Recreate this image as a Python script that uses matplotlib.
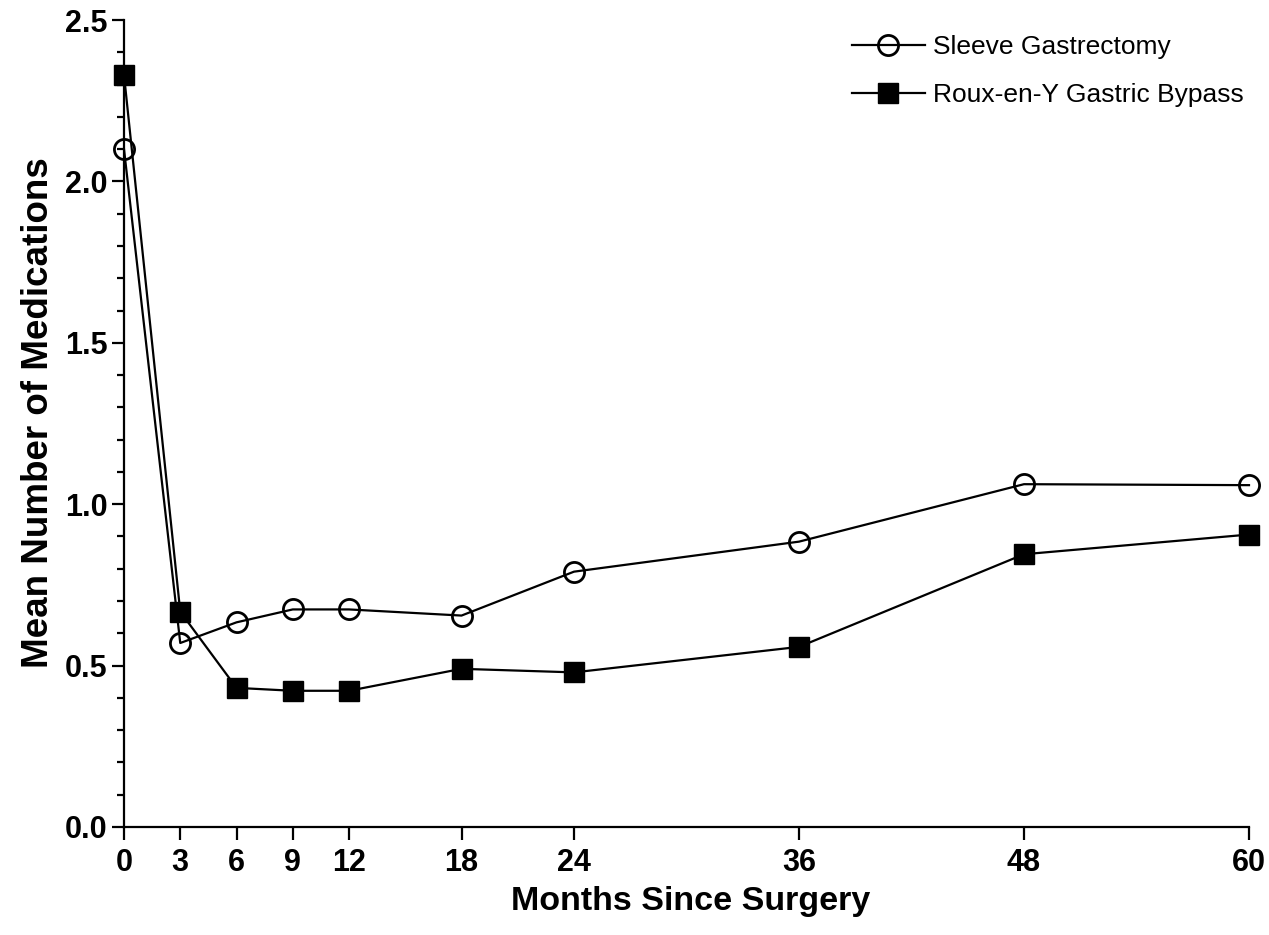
import matplotlib
matplotlib.use("Agg")
import matplotlib.pyplot as plt
from matplotlib.ticker import MultipleLocator

plt.rcParams['font.family'] = ['Liberation Sans', 'DejaVu Sans']

months = [0, 3, 6, 9, 12, 18, 24, 36, 48, 60]
sleeve = [2.10, 0.57, 0.634, 0.674, 0.674, 0.655, 0.791, 0.884, 1.062, 1.059]
rygb = [2.33, 0.667, 0.431, 0.422, 0.422, 0.490, 0.479, 0.558, 0.845, 0.906]
x_ticks = [0, 3, 6, 9, 12, 18, 24, 36, 48, 60]
y_ticks = [0.0, 0.5, 1.0, 1.5, 2.0, 2.5]

fig = plt.figure(figsize=(12.69, 9.35), dpi=100)
ax = fig.add_axes([124 / 1269, 1 - 827 / 935, (1249 - 124) / 1269, (827 - 20) / 935])

ax.plot(months, sleeve, color='black', lw=1.6, marker='o', ms=14.5,
        mfc='none', mec='black', mew=2.0, label='Sleeve Gastrectomy',
        clip_on=False, zorder=3)
ax.plot(months, rygb, color='black', lw=1.6, marker='s', ms=14.5,
        mfc='black', mec='black', label='Roux-en-Y Gastric Bypass',
        clip_on=False, zorder=4)

ax.set_xlim(0, 60)
ax.set_ylim(0, 2.5)
ax.set_xticks(x_ticks)
ax.set_xticklabels([str(v) for v in x_ticks])
ax.set_yticks(y_ticks)
ax.set_yticklabels([f"{v:.1f}" for v in y_ticks])
ax.yaxis.set_minor_locator(MultipleLocator(0.1))

for s in ['top', 'right']:
    ax.spines[s].set_visible(False)
for s in ['left', 'bottom']:
    ax.spines[s].set_linewidth(1.6)

ax.tick_params(axis='both', which='major', length=9, width=1.6,
               labelsize=22, direction='out')
ax.tick_params(axis='y', which='major', pad=3)
ax.tick_params(axis='x', which='major', pad=6)
ax.tick_params(axis='y', which='minor', length=5, width=1.6)
for lab in ax.get_xticklabels() + ax.get_yticklabels():
    lab.set_fontweight('bold')

ax.set_xlabel('Months Since Surgery', fontsize=24.5, fontweight='bold')
ax.set_ylabel('Mean Number of Medications', fontsize=26.5, fontweight='bold')
ax.xaxis.set_label_coords(0.504, -0.073)
ax.yaxis.set_label_coords(-0.060, 0.514)

leg = ax.legend(loc='upper right', bbox_to_anchor=(1.005, 0.994), frameon=False,
                fontsize=19, handlelength=2.8, handletextpad=0.3,
                labelspacing=0.9, borderaxespad=0.0)

fig.savefig('out.png', dpi=100)
